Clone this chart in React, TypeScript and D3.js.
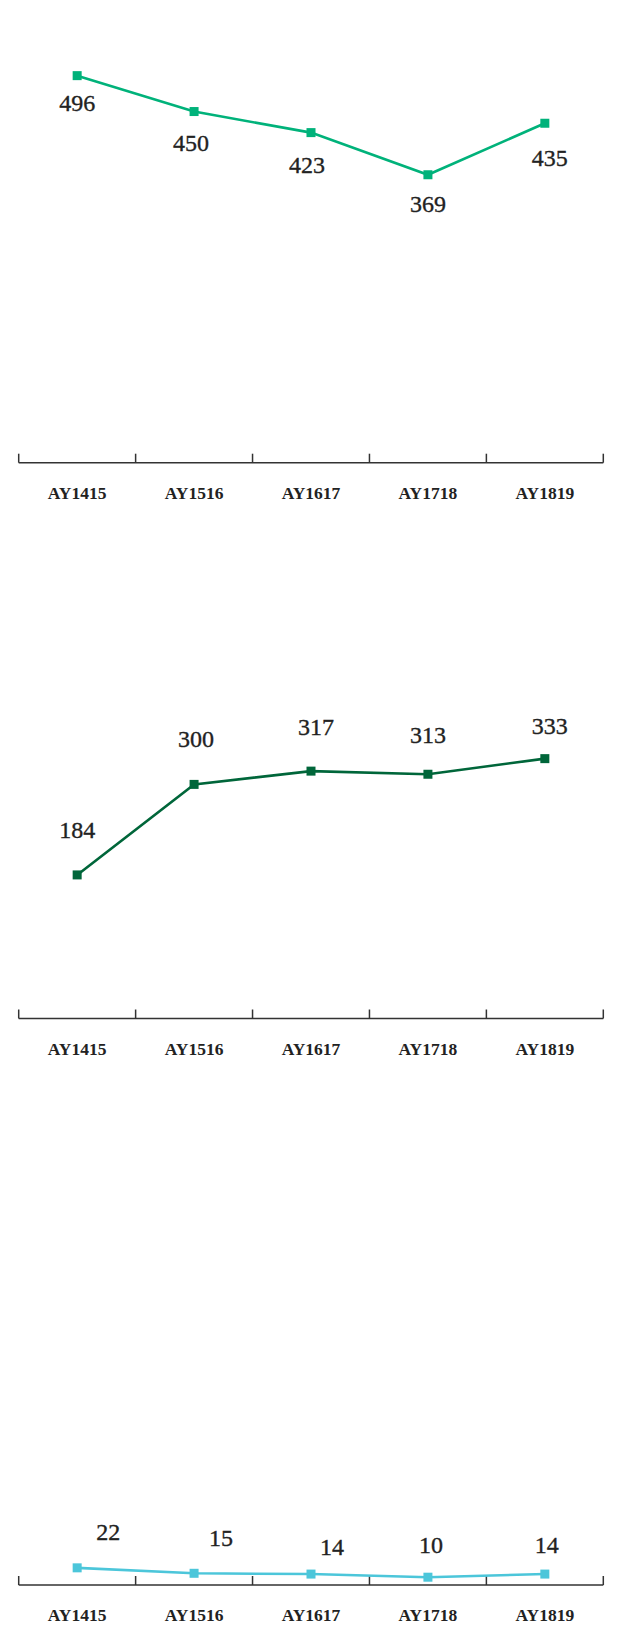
import React from "react";
import * as d3 from "d3";

const categories = ["AY1415", "AY1516", "AY1617", "AY1718", "AY1819"];
const seriesA = [496, 450, 423, 369, 435];
const seriesB = [184, 300, 317, 313, 333];
const seriesC = [22, 15, 14, 10, 14];

// label nudges (layout only)
const nudgeA: [number, number][] = [[0, 28], [-3, 32], [-4, 33], [0, 29], [5, 35]];
const nudgeB: [number, number][] = [[0, -45], [2, -45], [5, -44], [0, -39], [5, -32]];
const nudgeC: [number, number][] = [[31, -36], [27, -35], [21, -27], [3, -32], [2, -29]];

const panels = [
  { values: seriesA, color: "#00b27a", axisY: 462.7, nudge: nudgeA },
  { values: seriesB, color: "#00663a", axisY: 1018.5, nudge: nudgeB },
  { values: seriesC, color: "#4cc6da", axisY: 1585, nudge: nudgeC },
];

const W = 622;
const H = 1625;
const x0 = 18.7;
const x1 = 603.3;

export default function App() {
  const x = d3.scaleBand<string>().domain(categories).range([x0, x1]).padding(0);
  const bw = x.bandwidth();
  const boundaries = d3.range(categories.length + 1).map((i) => x0 + i * bw);

  return (
    <svg
      width={W}
      height={H}
      style={{ position: "absolute", left: 0, top: 0, display: "block" }}
    >
      <rect width={W} height={H} fill="#ffffff" />
      {panels.map((p, pi) => {
        const y = d3.scaleLinear().domain([0, 560]).range([p.axisY, p.axisY - 437]);
        const line = d3
          .line<number>()
          .x((_, i) => (x(categories[i]) as number) + bw / 2)
          .y((v) => y(v));
        return (
          <g key={pi}>
            <line x1={x0} x2={x1} y1={p.axisY} y2={p.axisY} stroke="#333" strokeWidth={1.5} />
            {boundaries.map((bx, i) => (
              <line key={i} x1={bx} x2={bx} y1={p.axisY} y2={p.axisY - 9} stroke="#333" strokeWidth={1.5} />
            ))}
            {categories.map((c) => (
              <text
                key={c}
                x={(x(c) as number) + bw / 2}
                y={p.axisY + 36}
                textAnchor="middle"
                fontFamily="'Liberation Serif', serif"
                fontWeight="bold"
                fontSize={17.5}
                fill="#222"
              >
                {c}
              </text>
            ))}
            <path d={line(p.values) as string} fill="none" stroke={p.color} strokeWidth={2.6} />
            {p.values.map((v, i) => {
              const cx = (x(categories[i]) as number) + bw / 2;
              const cy = y(v);
              return (
                <rect key={i} x={cx - 4.5} y={cy - 4.5} width={9} height={9} fill={p.color} />
              );
            })}
            {p.values.map((v, i) => {
              const cx = (x(categories[i]) as number) + bw / 2 + p.nudge[i][0];
              const cy = y(v) + p.nudge[i][1];
              return (
                <text
                  key={"l" + i}
                  x={cx}
                  y={cy + 7.8}
                  textAnchor="middle"
                  fontFamily="'Liberation Serif', serif"
                  fontSize={24}
                  fill="#222"
                  stroke="#222"
                  strokeWidth={0.35}
                >
                  {v}
                </text>
              );
            })}
          </g>
        );
      })}
    </svg>
  );
}
